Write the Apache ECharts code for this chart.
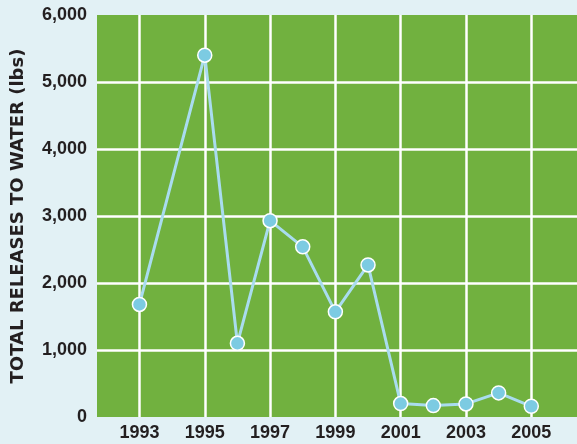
<!DOCTYPE html>
<html>
<head>
<meta charset="utf-8">
<script src="https://cdn.jsdelivr.net/npm/echarts@6/dist/echarts.min.js"></script>
<style>
html,body{margin:0;padding:0;background:#e2f1f5;}
#chart{width:577px;height:444px;}
</style>
</head>
<body>
<div id="chart"></div>
<script>
var years = [1993, 1995, 1996, 1997, 1998, 1999, 2000, 2001, 2002, 2003, 2004, 2005];
var releases = [1680, 5400, 1100, 2930, 2540, 1570, 2270, 200, 170, 195, 360, 160];
var xTickYears = [1993, 1995, 1997, 1999, 2001, 2003, 2005];
var yTitle = 'TOTAL RELEASES TO WATER (lbs)';

var chart = echarts.init(document.getElementById('chart'));
chart.setOption({
  backgroundColor: '#e2f1f5',
  animation: false,
  grid: {left: 97, right: 0, top: 15, bottom: 27, show: true, backgroundColor: '#71b13f', borderWidth: 0,
    containLabel: false, outerBoundsMode: 'none'},
  xAxis: {
    type: 'value', min: 1991.7, max: 2006.4,
    axisLine: {show: false},
    axisTick: {show: false, customValues: xTickYears},
    axisLabel: {customValues: xTickYears, formatter: function(v){return String(v);}, color: '#231f20', fontWeight: 'bold', fontSize: 18, fontFamily: 'Liberation Sans, Arial', margin: 7},
    splitLine: {show: true, lineStyle: {color: '#ffffff', width: 2.5}}
  },
  yAxis: {
    type: 'value', min: 0, max: 6000, interval: 1000,
    name: yTitle, nameLocation: 'middle', nameGap: 70, nameRotate: 90,
    nameTextStyle: {color: '#231f20', fontWeight: 'bold', fontSize: 18, fontFamily: 'DejaVu Sans'},
    axisLine: {show: false}, axisTick: {show: false},
    axisLabel: {color: '#231f20', fontWeight: 'bold', fontSize: 18, fontFamily: 'Liberation Sans, Arial', margin: 10,
      formatter: function(v){return v.toLocaleString('en-US');}},
    splitLine: {show: true, lineStyle: {color: ['transparent','#ffffff','#ffffff','#ffffff','#ffffff','#ffffff','transparent'], width: 2.5}}
  },
  series: [{
    type: 'line',
    data: years.map(function(y, i){return [y, releases[i]];}),
    symbol: 'circle', symbolSize: 14,
    lineStyle: {color: '#a9dcef', width: 3},
    itemStyle: {color: '#7ccbe2', borderColor: '#ffffff', borderWidth: 1.5}
  }]
});
</script>
</body>
</html>
